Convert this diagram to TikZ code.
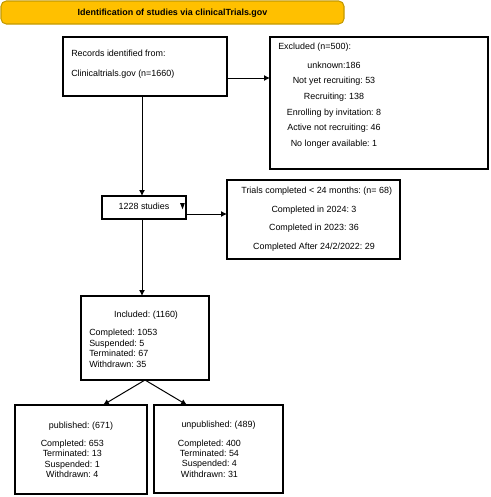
\documentclass[tikz,border=0pt]{standalone}
\usepackage{fontspec}
\setmainfont{Liberation Sans}
\usetikzlibrary{arrows.meta,calc}
\definecolor{bannerfill}{HTML}{FFC000}
\definecolor{bannerdraw}{HTML}{C49A00}
\frenchspacing
\begin{document}
\begin{tikzpicture}[x=0.75pt,y=-0.75pt,
  box/.style={draw=black, line width=1.1pt, inner sep=0pt, outer sep=0pt},
  banner/.style={draw=bannerdraw, fill=bannerfill, line width=0.8pt, rounded corners=4pt, inner sep=0pt, outer sep=0pt},
  txt/.style={inner sep=0pt, anchor=base, font=\fontsize{6.7}{8}\selectfont\frenchspacing},
  ltxt/.style={txt, anchor=base west},
  conn/.style={line width=0.75pt, -{Latex[length=4.5pt,width=4.5pt]}},
  plain/.style={line width=0.75pt}]
\useasboundingbox (0,0) rectangle (491,497);

% boxes
\node[banner, minimum width=257.25pt, minimum height=17.25pt] (banner) at (172.5,12.5) {};
\node[box, minimum width=123pt, minimum height=44.25pt] (records) at (145,66.5) {};
\node[box, minimum width=163.5pt, minimum height=99pt] (excluded) at (379,103) {};
\node[box, minimum width=63pt, minimum height=17.25pt] (s1228) at (144,207.5) {};
\node[box, minimum width=129.75pt, minimum height=59.25pt] (trials) at (313.5,219.5) {};
\node[box, minimum width=96pt, minimum height=63pt] (included) at (145,338) {};
\node[box, minimum width=99pt, minimum height=66.75pt] (published) at (81,449.5) {};
\node[box, minimum width=96.75pt, minimum height=66pt] (unpublished) at (218.5,449) {};

% helper coordinates
\coordinate (ya) at (0,78);
\coordinate (xv) at (142,0);
\coordinate (yb) at (0,214);
\coordinate (xl) at (103,0);
\coordinate (xr) at (187,0);

% connectors
\draw[conn] (records.east |- ya) -- (excluded.west |- ya);
\draw[conn] (records.south -| xv) -- (s1228.north -| xv);
\draw[conn] (s1228.east |- yb) -- (trials.west |- yb);
\draw[conn] (s1228.south -| xv) -- (included.north -| xv);
\draw[conn] (included.south) -- (published.north -| xl);
\draw[conn] (included.south) -- (unpublished.north -| xr);

% small marker in the 1228 box
\fill ($(s1228.east)+(-6,-4.5)$) -- ($(s1228.east)+(-1.2,-4.5)$) -- ($(s1228.east)+(-3.4,1.8)$) -- cycle;

% texts
\node[txt, font=\fontsize{6.7}{8}\selectfont\bfseries\frenchspacing] (bt) at (172.5,15) {Identification of studies via clinicalTrials.gov};

\node[ltxt] (r1) at (71,56.7) {Records identified from:};
\node[ltxt] (r2) at (71,76.7) {Clinicaltrials.gov (n=1660)};

\node[ltxt] (e0) at (278,49.3) {Excluded (n=500):};
\node[txt] (e1) at (334,68.2) {unknown:186};
\node[txt] (e2) at (334,83.85) {Not yet recruiting: 53};
\node[txt] (e3) at (334,99.5) {Recruiting: 138};
\node[txt] (e4) at (334,115.15) {Enrolling by invitation: 8};
\node[txt] (e5) at (334,130.8) {Active not recruiting: 46};
\node[txt] (e6) at (334,146.45) {No longer available: 1};

\node[txt] (st) at (144,209) {1228 studies};

\node[txt] (t0) at (316.7,193.9) {Trials completed < 24 months: (n= 68)};
\node[txt] (t1) at (314,212.5) {Completed in 2024: 3};
\node[txt] (t2) at (314,230.9) {Completed in 2023: 36};
\node[txt] (t3) at (314,249.2) {Completed After 24/2/2022: 29};

\node[txt] (i0) at (146,317.2) {Included: (1160)};
\node[ltxt] (i1) at (89,335.9) {Completed: 1053};
\node[ltxt] (i2) at (89,346.3) {Suspended: 5};
\node[ltxt] (i3) at (89,356.7) {Terminated: 67};
\node[ltxt] (i4) at (89,367.1) {Withdrawn: 35};

\node[txt] (p0) at (81,428.2) {published: (671)};
\node[txt] (p1) at (72.3,446.5) {Completed: 653};
\node[txt] (p2) at (72.3,456.8) {Terminated: 13};
\node[txt] (p3) at (72.3,467.1) {Suspended: 1};
\node[txt] (p4) at (72.3,477.4) {Withdrawn: 4};

\node[txt] (u0) at (218.5,427.5) {unpublished: (489)};
\node[txt] (u1) at (209.4,446.2) {Completed: 400};
\node[txt] (u2) at (209.4,456.5) {Terminated: 54};
\node[txt] (u3) at (209.4,466.8) {Suspended: 4};
\node[txt] (u4) at (209.4,477.1) {Withdrawn: 31};
\end{tikzpicture}
\end{document}
